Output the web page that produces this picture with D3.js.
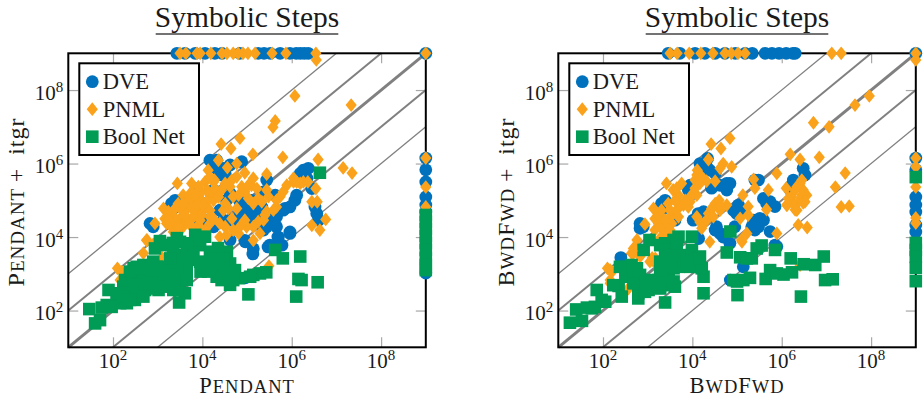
<!DOCTYPE html>
<meta charset="utf-8">
<script src="https://d3js.org/d3.v7.min.js"></script>
<style>
  body { margin: 0; background: #fff; }
  svg { display: block; }
  text { font-family: "Liberation Serif", serif; fill: #1a1a1a; }
</style>
<div id="my_dataviz"></div>

<script>
// all values are log10 of the step count: [x, y]
var pendantDve = [[4.32,6.09],[4.25,5.91],[4.36,5.82],[4.51,5.73],[4.88,6.05],[4.62,5.96],[4.43,5.69],[6.19,5.73],[6.37,5.87],[6.34,5.6],[6.45,5.32],[6.07,5.0],[5.96,4.82],[5.81,4.73],[5.44,5.55],[5.37,5.23],[5.63,5.14],[5.1,5.0],[4.99,4.82],[5.03,4.55],[5.51,4.46],[5.66,4.55],[5.96,4.1],[5.7,4.0],[5.51,3.78],[4.95,3.91],[5.14,3.68],[3.87,5.32],[3.31,4.91],[3.39,5.0],[2.9,4.28],[4.62,5.19],[4.54,5.0],[4.25,5.28],[4.39,4.73],[4.62,4.46],[4.84,4.64],[5.22,4.73],[5.44,4.28],[6.56,4.64],[6.6,4.46],[6.52,4.82],[4.99,4.37],[4.1,4.46],[4.25,4.28],[3.87,4.37],[5.13,3.54],[5.47,3.73],[5.69,4.0],[5.96,4.14],[5.78,3.78],[4.96,3.87],[4.96,2.89],
  [4.25,6.0],[4.17,6.09],[4.47,5.87],[4.54,5.37],[4.47,4.46],[4.77,4.46],[4.84,4.96],[4.95,4.96],[5.33,4.82],[5.25,4.6],[5.37,4.19],[5.66,4.28],[5.59,4.64],[5.85,4.78],[6.15,5.6],[6.26,5.82],[6.11,5.14],[4.17,4.46],[3.35,4.78],[2.83,4.37],[4.62,3.92]];
var pendantPnml = [[4.42,6.53],[4.84,6.69],[4.64,6.41],[5.13,6.25],[5.8,6.17],[6.59,6.11],[3.44,5.46],[3.76,5.46],[4.13,5.82],[4.06,5.5],[4.36,6.09],[4.56,5.89],[4.77,6.0],[4.95,5.75],[5.44,5.71],[4.27,5.55],[4.66,5.55],[5.1,5.41],[5.22,5.32],[4.88,5.37],[4.43,5.28],[4.17,5.14],[3.98,5.0],[3.8,4.91],[3.65,4.78],[3.46,4.91],[3.13,4.78],[3.16,4.5],[3.28,4.37],[3.5,4.5],[3.35,4.14],[2.94,4.37],[2.75,3.91],[3.65,4.46],[3.87,4.73],[4.17,4.55],[4.06,4.78],[4.47,4.73],[4.69,5.1],[4.77,4.78],[5.03,5.05],[5.25,5.05],[5.48,5.1],[5.74,5.1],[5.66,4.82],[5.37,4.46],[5.44,4.69],[4.99,4.28],[4.66,4.5],[4.51,4.28],[4.81,4.1],[5.29,4.1],[5.14,3.91],[4.39,4.0],[4.17,4.37],[3.91,4.32],[3.57,4.28],[6.04,5.5],[6.11,5.5],[6.26,5.5],[5.89,5.41],[6.36,5.5],[6.54,5.32],[6.45,4.96],[6.57,4.96],[6.45,4.32],[6.63,4.19],[6.76,4.48],[4.51,4.91],[3.35,4.55],[3.54,4.73],[3.72,5.0],[3.91,5.1],[4.1,5.28],[4.28,5.32],[3.24,4.69],[3.5,4.28],[3.8,4.55],[3.98,4.6],[3.65,5.05],[3.76,5.23],[3.57,5.14],[6.07,7.84],[5.63,7.16],[5.58,6.99],[7.33,7.59],[7.15,5.88],[7.35,5.74],[6.55,8.82],[5.49,3.21],[2.2,3.05],[2.1,3.15],[2.76,3.92],[2.68,3.56],[2.16,2.83],[3.1,3.43],
  [3.2,4.37],[3.31,4.28],[3.42,4.46],[3.46,4.28],[3.61,4.6],[3.76,4.78],[3.87,4.87],[3.98,5.23],[3.84,5.14],[3.91,5.37],[3.57,4.91],[3.39,4.78],[3.24,4.46],[4.1,4.96],[4.25,5.0],[4.36,5.09],[4.02,4.87],[4.17,4.73],[3.95,4.46],[3.76,4.28],[4.06,4.19],[4.25,4.5],[4.39,4.37],[4.58,4.78],[4.69,4.19],[4.84,4.28],[4.54,4.05],[4.25,5.5],[4.17,5.64],[4.95,5.23],[4.81,5.14],[4.77,5.64],[4.62,5.37],[4.51,5.46],[5.14,4.91],[5.33,4.96],[5.59,4.73],[5.4,4.6],[5.25,4.42],[4.95,4.46],[5.14,4.28],[5.44,5.28],[5.14,5.6],[5.03,5.41],[5.81,5.23],[5.66,5.0],[6.04,5.6],[6.19,5.46],[2.9,3.8],[3.05,3.75]];
var pendantBool = [[1.47,2.04],[1.75,2.08],[1.9,2.56],[1.6,1.65],[1.71,1.74],[2.16,2.2],[2.31,2.2],[2.38,2.56],[2.38,2.83],[2.53,2.47],[2.53,3.19],[2.79,3.19],[2.6,2.88],[2.83,2.6],[2.98,3.19],[3.05,3.01],[3.24,2.83],[2.98,2.79],[3.35,2.56],[3.61,2.47],[3.48,2.22],[3.31,3.78],[2.94,3.69],[3.05,3.89],[3.5,3.87],[3.61,3.51],[3.84,4.06],[4.06,4.01],[3.91,3.78],[3.35,3.33],[3.65,3.1],[3.96,3.06],[4.17,3.6],[4.4,3.56],[4.55,3.6],[4.32,3.28],[4.62,3.28],[4.73,3.1],[4.32,2.92],[4.55,2.92],[4.62,2.7],[4.81,2.88],[5.03,2.44],[5.14,2.97],[5.29,3.01],[5.43,3.04],[5.63,3.65],[5.8,3.42],[6.19,3.47],[6.15,2.86],[6.22,2.83],[6.58,2.77],[6.1,2.38],[3.5,2.79],[3.2,3.15],[2.23,2.65],[2.75,2.83],[3.43,2.97],[3.58,3.33],[6.63,5.75],[3.34,3.84],[4.35,3.7],
  [2.68,3.24],[2.9,3.33],[2.46,3.15],[2.46,2.97],[2.68,3.01],[2.87,2.97],[3.13,2.97],[2.31,2.6],[2.53,2.69],[2.72,2.56],[3.02,2.56],[3.17,2.65],[2.08,2.29],[2.49,2.29],[2.68,2.38],[1.86,2.15],[1.97,2.1],[3.43,2.6],[3.35,3.6],[3.72,3.83],[3.65,3.69],[3.8,3.6],[3.43,3.97],[3.95,3.92],[3.5,3.33],[3.43,3.15],[3.31,2.97],[4.25,3.42],[4.47,3.42],[4.25,3.15],[4.47,3.15],[4.66,3.01],[4.43,2.83],[4.69,2.83],[5.07,2.92],
  [2.12,2.47],[2.23,2.38],[2.38,2.29],[2.27,2.83],[2.38,3.06],[2.64,3.15],[2.87,3.1],[3.09,3.19],[3.65,2.83],[3.76,3.38],[4.13,3.06],[4.21,3.33],[3.2,3.78],[3.28,3.42],[3.95,3.33]];
var pendantDveTop = [3.43,3.61,3.84,4.06,4.28,4.44,4.84,5.25,5.38,5.52,5.74,5.96,6.1,6.19,6.28,6.37,9];
var pendantPnmlTop = [3.5,3.63,3.88,3.95,4.19,4.44,4.55,4.69,4.8,4.91,5.02,5.18,5.56,5.87,6.54,9];
var pendantDveSide = [6.15,5.83,5.5,5.09,4.87,4.68,3.02];
var pendantPnmlSide = [6.15,5.36,4.82];
var pendantBoolSide = [4.6,4.41,4.22,4.03,3.84,3.65,3.43,3.24,3.1];

var bwdDve = [[4.34,6.14],[4.25,5.91],[4.39,5.82],[4.51,5.73],[4.43,5.33],[4.77,5.46],[4.77,5.28],[3.91,5.28],[3.31,4.91],[3.39,5.0],[2.9,4.28],[6.48,5.87],[6.52,5.69],[6.22,5.41],[5.4,5.55],[5.48,5.55],[5.59,5.05],[5.74,4.96],[5.85,4.83],[5.03,4.87],[4.99,4.64],[5.51,4.51],[5.48,4.28],[5.4,4.19],[4.25,4.69],[4.62,4.1],[4.51,4.19],[5.74,4.15],[5.85,3.78],[4.84,3.83],[3.61,4.46],[2.4,3.44],[3.44,3.15],[4.85,2.83],[5.14,3.19],[5.89,3.74],[4.14,3.96],[2.83,4.24],[4.7,4.05],
  [4.17,6.0],[4.32,5.91],[4.47,5.41],[4.62,5.41],[3.95,5.41],[4.84,5.46],[4.92,4.73],[5.07,4.73],[5.37,4.46],[5.33,4.28],[5.59,4.46],[5.66,4.92],[4.54,4.28],[4.69,4.0],[4.28,4.51],[4.13,4.64],[4.02,4.46],[3.35,4.78],[2.83,4.37],[6.26,5.55],[6.19,5.28],[4.95,4.28]];
var bwdPnml = [[4.42,6.53],[4.84,6.69],[4.64,6.41],[4.36,6.11],[4.69,6.0],[4.88,5.91],[4.62,5.87],[4.11,5.82],[4.06,5.55],[4.32,5.52],[4.51,5.52],[3.42,5.46],[3.76,5.46],[3.57,5.28],[3.69,5.14],[4.1,5.14],[3.95,4.96],[3.8,4.87],[3.46,4.91],[3.65,4.73],[3.13,4.78],[3.16,4.5],[3.31,4.55],[3.5,4.55],[3.35,4.19],[2.94,4.35],[3.16,4.19],[3.54,4.37],[2.68,3.69],[4.6,5.0],[4.77,4.87],[4.47,4.82],[4.1,4.55],[4.36,4.64],[4.25,4.37],[4.62,4.73],[5.13,5.14],[5.37,5.57],[5.4,5.33],[5.7,5.28],[5.89,5.73],[5.25,4.83],[5.07,4.51],[5.25,4.6],[5.66,4.75],[5.22,4.1],[5.1,3.92],[5.89,4.1],[6.1,5.33],[6.11,4.87],[6.34,4.73],[6.22,5.1],[6.41,5.46],[6.48,5.28],[6.56,5.14],[6.37,4.96],[6.45,5.14],[6.37,4.33],[6.57,4.26],[6.19,6.25],[6.41,6.11],[6.84,6.17],[6.71,7.11],[4.39,3.87],[7.06,7.0],[7.64,7.59],[7.96,7.84],[7.42,5.74],[7.2,5.36],[7.33,4.82],[7.51,4.84],[6.3,4.74],[6.12,4.87],[6.48,4.93],[5.11,3.87],[6.41,3.24],[2.2,3.05],[2.1,3.15],[2.76,3.92],[2.68,3.56],[2.16,2.83],[3.1,3.43],
  [3.24,4.37],[3.28,4.28],[3.42,4.37],[3.24,4.6],[3.39,4.46],[3.57,4.64],[3.72,4.87],[3.84,5.0],[3.98,5.14],[4.06,5.33],[4.17,5.46],[3.91,4.82],[3.5,4.73],[3.61,5.0],[3.65,5.33],[3.35,4.05],[4.21,5.64],[4.1,5.69],[3.5,4.19],[3.69,4.55],[3.31,4.73],[4.43,4.78],[4.51,4.91],[4.62,4.87],[4.17,4.41],[4.32,4.46],[4.47,4.55],[4.21,4.24],[6.3,5.28],[6.22,4.96],[6.34,5.37],[6.45,5.55],[6.15,5.05],[6.52,4.96],[2.16,3.1],[2.16,2.74],[2.64,3.56],[3.05,3.33],[3.2,3.24],[2.57,2.6],[2.83,3.47],[3.28,3.97],[3.17,3.42]];
var bwdBool = [[1.26,1.67],[1.53,1.72],[1.4,2.03],[1.64,2.08],[1.82,2.1],[2.05,2.24],[1.86,2.56],[2.35,2.67],[2.42,2.38],[2.5,3.19],[2.76,3.15],[2.57,2.92],[2.79,2.33],[2.83,2.6],[3.05,2.83],[3.17,2.65],[3.35,2.83],[3.61,2.65],[3.39,2.22],[2.91,3.65],[3.04,3.92],[3.39,3.83],[3.69,4.01],[3.99,4.01],[3.43,3.51],[3.73,3.51],[3.99,3.65],[4.17,3.47],[3.95,3.19],[4.25,2.92],[4.25,2.47],[4.85,4.15],[4.77,3.58],[5.07,3.45],[5.33,3.42],[5.55,3.77],[5.85,3.65],[6.2,3.42],[5.0,2.79],[5.29,2.89],[5.01,2.42],[5.64,2.86],[5.74,3.1],[6.04,2.98],[6.23,3.04],[6.49,3.26],[6.75,3.24],[6.94,3.47],[6.97,2.83],[7.14,2.85],[6.43,2.38],[3.69,3.19],[3.28,3.06],
  [2.5,2.97],[2.68,2.97],[2.83,2.97],[2.83,2.83],[2.94,2.79],[2.79,2.47],[3.02,2.56],[3.24,2.83],[3.47,2.69],[3.47,2.97],[3.58,3.15],[2.64,3.24],[3.28,3.78],[3.5,3.69],[3.58,3.92],[3.39,3.65],[3.58,3.51],[3.8,3.24],[4.1,3.19],[4.21,3.15],[4.06,3.42],[2.23,2.69],[1.97,2.29],[1.75,2.06],[5.14,2.83],[4.92,2.83],[5.89,3.01],[5.22,3.42],[5.44,3.69],
  [2.68,2.74],[2.94,2.51],[3.28,2.6],[2.38,3.19],[3.58,2.79],[3.32,3.1],[3.28,3.33],[3.47,3.28],[3.65,3.83],[3.88,3.33]];
var bwdDveTop = [3.46,3.72,4.06,4.28,4.51,4.73,4.96,5.18,5.34,5.63,5.78,5.94,6.1,6.25,6.3,9];
var bwdPnmlTop = [3.5,3.66,3.93,4.19,4.46,4.73,4.87,5.02,5.18,7.12,7.33,9];
var bwdDveSide = [6.15,5.83,5.09,4.87,4.68,4.33,4.14];
var bwdPnmlSide = [8.82,6.15,5.91,5.36,4.52,4.38];
var bwdBoolSide = [5.63,3.84,3.65,3.46,3.16,2.8];

var tickExponents = [2, 4, 6, 8];
var diagonalRatios = [0.01, 0.1, 1, 10, 100];
var diagonalWidths = [1.3, 2, 3, 2, 1.3];
var legendNames = ["DVE", "PNML", "Bool Net"];
var legendColors = ["#0072bd", "#faa21b", "#009b55"];

var svg = d3.select("#my_dataviz").append("svg")
  .attr("width", 923)
  .attr("height", 401);

var symbols = [
  d3.symbol().type(d3.symbolCircle).size(Math.PI * 6.4 * 6.4),
  // pgfplots diamond, a bit narrower than tall
  function() { return "M0,-6.9L5.6,0L0,6.9L-5.6,0Z"; },
  d3.symbol().type(d3.symbolSquare).size(12.6 * 12.6)
];

// text pieces: [string, big or small]
function smallCaps(sel, parts, big, small) {
  sel.attr("letter-spacing", 1);
  parts.forEach(function(p) {
    sel.append("tspan").attr("font-size", p[1] ? big : small).text(p[0]);
  });
}

function addPower(sel, exp) {
  sel.append("tspan").attr("font-size", 21).text("10");
  sel.append("tspan").attr("font-size", 15).attr("dy", -8).text(exp);
}

function drawPanel(left, xLabel, dve, pnml, bool, dveTop, pnmlTop, dveSide, pnmlSide, boolSide) {
  var right = left + 357.5, top = 53.3, bottom = 347.3;
  var x = d3.scaleLog().domain([10, 1e9]).range([left, right]);
  var y = d3.scaleLog().domain([10, 1e9]).range([bottom, top]);
  var g = svg.append("g");
  var tickVals = tickExponents.map(function(e) { return Math.pow(10, e); });

  // title
  g.append("text")
    .attr("x", (left + right) / 2).attr("y", 27)
    .attr("text-anchor", "middle").attr("font-size", 29.5)
    .text("Symbolic Steps");
  g.append("line")
    .attr("x1", left + 87.4).attr("x2", left + 270)
    .attr("y1", 34).attr("y2", 34)
    .attr("stroke", "#444").attr("stroke-width", 1.3);

  // ticks, all pointing inside
  var makeAxis = [
    [d3.axisBottom(x).tickSize(-10), "translate(0," + bottom + ")"],
    [d3.axisTop(x).tickSize(-10), "translate(0," + top + ")"],
    [d3.axisLeft(y).tickSize(-10), "translate(" + left + ",0)"],
    [d3.axisRight(y).tickSize(-10), "translate(" + right + ",0)"]
  ];
  makeAxis.forEach(function(a) {
    var ax = g.append("g").attr("transform", a[1])
      .call(a[0].tickValues(tickVals).tickFormat(""));
    ax.select(".domain").remove();
    ax.selectAll("line").attr("stroke", "#a8a8a8").attr("stroke-width", 1.2);
  });

  // diagonals
  var diag = d3.line().x(function(d) { return x(d[0]); }).y(function(d) { return y(d[1]); });
  diagonalRatios.forEach(function(k, i) {
    var x0 = Math.max(10, 10 / k), x1 = Math.min(1e9, 1e9 / k);
    g.append("path")
      .attr("d", diag([[x0, x0 * k], [x1, x1 * k]]))
      .attr("fill", "none").attr("stroke", "#808080")
      .attr("stroke-width", diagonalWidths[i]);
  });

  // frame
  g.append("rect")
    .attr("x", left).attr("y", top)
    .attr("width", right - left).attr("height", bottom - top)
    .attr("fill", "none").attr("stroke", "#000").attr("stroke-width", 2);

  // tick labels
  tickExponents.forEach(function(e) {
    addPower(g.append("text").attr("x", x(Math.pow(10, e))).attr("y", 367.5)
      .attr("text-anchor", "middle"), e);
    addPower(g.append("text").attr("x", left - 5).attr("y", y(Math.pow(10, e)) + 9.5)
      .attr("text-anchor", "end"), e);
  });

  // axis labels
  smallCaps(g.append("text").attr("x", (left + right) / 2).attr("y", 392.5)
    .attr("text-anchor", "middle"), xLabel, 22.5, 18.5);
  var yl = g.append("text")
    .attr("text-anchor", "middle")
    .attr("transform", "translate(" + (left - 44.5) + ",202) rotate(-90)");
  smallCaps(yl, xLabel.concat([["\u2009+\u2009 itgr", true]]), 24, 19);

  // marks, one group per series so the green stays on top
  var series = [
    dve.concat(dveTop.map(function(v) { return [v, 9]; }), dveSide.map(function(v) { return [9, v]; })),
    pnml.concat(pnmlTop.map(function(v) { return [v, 9]; }), pnmlSide.map(function(v) { return [9, v]; })),
    bool.concat(boolSide.map(function(v) { return [9, v]; }))
  ];
  series.forEach(function(points, i) {
    g.append("g").selectAll("path")
      .data(points)
      .enter()
      .append("path")
        .attr("d", symbols[i])
        .attr("fill", legendColors[i])
        .attr("transform", function(d) {
          return "translate(" + x(Math.pow(10, d[0])) + "," + y(Math.pow(10, d[1])) + ")";
        });
  });

  // legend
  var legend = g.append("g").attr("transform", "translate(" + (left + 11) + ",63.3)");
  legend.append("rect")
    .attr("width", 119.7).attr("height", 91.7)
    .attr("fill", "#fff").attr("stroke", "#000").attr("stroke-width", 2);
  legendNames.forEach(function(name, i) {
    var row = legend.append("g").attr("transform", "translate(0," + (18.4 + i * 27.5) + ")");
    row.append("path").attr("d", symbols[i]).attr("transform", "translate(13,0)")
      .attr("fill", legendColors[i]);
    row.append("text").attr("x", 23.5).attr("y", 7.5).attr("font-size", 22.5).text(name);
  });
}

drawPanel(68.3, [["P", true], ["ENDANT", false]], pendantDve, pendantPnml, pendantBool,
  pendantDveTop, pendantPnmlTop, pendantDveSide, pendantPnmlSide, pendantBoolSide);
drawPanel(558.3, [["B", true], ["WD", false], ["F", true], ["WD", false]], bwdDve, bwdPnml, bwdBool,
  bwdDveTop, bwdPnmlTop, bwdDveSide, bwdPnmlSide, bwdBoolSide);
</script>
